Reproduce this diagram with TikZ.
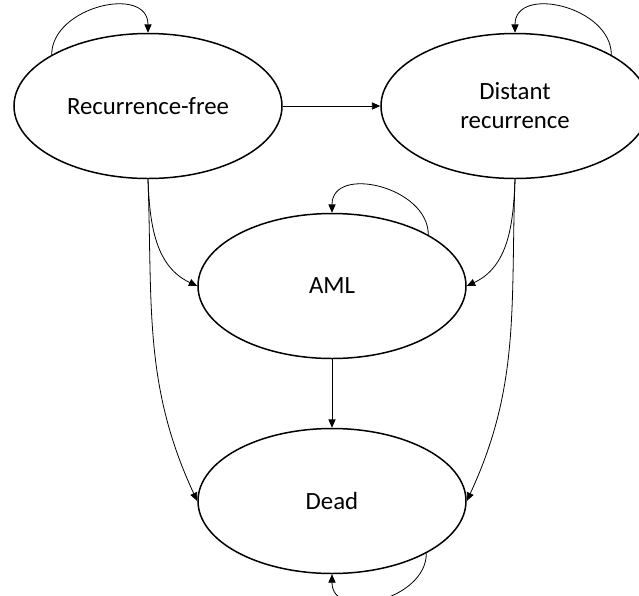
\documentclass[tikz,border=0pt]{standalone}
\usepackage{fontspec}
\setmainfont{Carlito}
\usepackage{tikz}
\usetikzlibrary{shapes.geometric,arrows.meta}

\begin{document}
\begin{tikzpicture}[x=0.5pt, y=-0.5pt,
	state/.style={draw, ellipse, line width=0.75pt, minimum width=134pt, minimum height=72.5pt, inner sep=0, font=\fontsize{12.4}{14.5}\selectfont, align=center},
	trans/.style={line width=0.4pt, -{Triangle[length=4.2pt, width=3.6pt]}}]
\useasboundingbox (0,0) rectangle (639,596);
\node[state] (rf) at (148,106) {Recurrence-free};
\node[state] (dr) at (515,106) {Distant\\recurrence};
\node[state] (aml) at (332,286) {AML};
\node[state] (dead) at (332,501) {Dead};
\draw[trans] (rf.east) -- (dr.west);
\draw[trans] (aml.south) -- (dead.north);
\draw[trans] (rf.south) to[out=-88, in=155] (aml.west);
\draw[trans] (rf.south) to[out=-88, in=115] (dead.west);
\draw[trans] (dr.south) to[out=-92, in=25] (aml.east);
\draw[trans] (dr.south) to[out=-92, in=65] (dead.east);
\draw[trans] (rf.152) to[out=90, in=90, looseness=1.25] (rf.north);
\draw[trans] (dr.28) to[out=90, in=90, looseness=1.25] (dr.north);
\draw[trans] (aml.28) to[out=90, in=90, looseness=1.25] (aml.north);
\draw[trans] (dead.-29) to[out=-90, in=-90, looseness=1.25] (dead.south);
\end{tikzpicture}
\end{document}
